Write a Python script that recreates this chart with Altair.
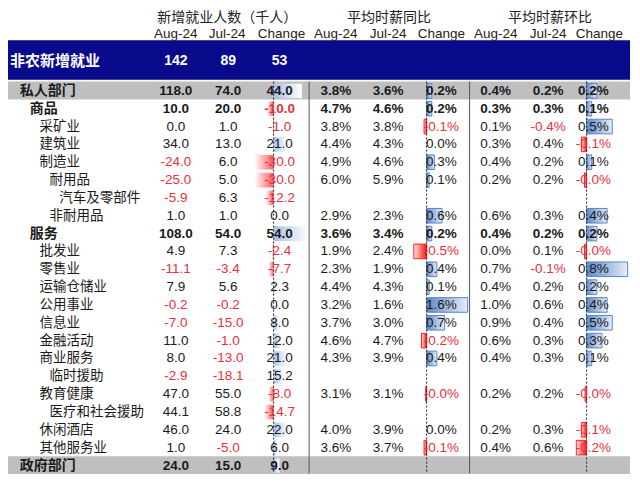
import math
import altair as alt
import pandas as pd

# ---------------- data ----------------
labels = ["私人部门", "商品", "采矿业", "建筑业", "制造业", "耐用品", "汽车及零部件", "非耐用品",
          "服务", "批发业", "零售业", "运输仓储业", "公用事业", "信息业", "金融活动", "商业服务",
          "临时援助", "教育健康", "医疗和社会援助", "休闲酒店", "其他服务业", "政府部门"]
levels = [1, 2, 3, 3, 3, 4, 5, 4, 2, 3, 3, 3, 3, 3, 3, 3, 4, 3, 4, 3, 3, 1]
bold_rows = ["私人部门", "商品", "服务", "政府部门"]
band_rows = ["私人部门", "政府部门"]

emp_aug = [118.0, 10.0, 0.0, 34.0, -24.0, -25.0, -5.9, 1.0, 108.0, 4.9, -11.1, 7.9, -0.2, -7.0,
           11.0, 8.0, -2.9, 47.0, 44.1, 46.0, 1.0, 24.0]
emp_jul = [74.0, 20.0, 1.0, 13.0, 6.0, 5.0, 6.3, 1.0, 54.0, 7.3, -3.4, 5.6, -0.2, -15.0,
           -1.0, -13.0, -18.1, 55.0, 58.8, 24.0, -5.0, 15.0]
emp_chg = [44.0, -10.0, -1.0, 21.0, -30.0, -30.0, -12.2, 0.0, 54.0, -2.4, -7.7, 2.3, 0.0, 8.0,
           12.0, 21.0, 15.2, -8.0, -14.7, 22.0, 6.0, 9.0]

yoy_aug = [3.8, 4.7, 3.8, 4.4, 4.9, 6.0, None, 2.9, 3.6, 1.9, 2.3, 4.4, 3.2, 3.7, 4.6, 4.3,
           None, 3.1, None, 4.0, 3.6, None]
yoy_jul = [3.6, 4.6, 3.8, 4.3, 4.6, 5.9, None, 2.3, 3.4, 2.4, 1.9, 4.3, 1.6, 3.0, 4.7, 3.9,
           None, 3.1, None, 3.9, 3.7, None]
yoy_chg = [0.2, 0.2, -0.1, 0.0, 0.3, 0.1, None, 0.6, 0.2, -0.5, 0.4, 0.1, 1.6, 0.7, -0.2, 0.4,
           None, -0.04, None, 0.0, -0.1, None]

mom_aug = [0.4, 0.3, 0.1, 0.3, 0.4, 0.2, None, 0.6, 0.4, 0.0, 0.7, 0.4, 1.0, 0.9, 0.6, 0.4,
           None, 0.2, None, 0.2, 0.4, None]
mom_jul = [0.2, 0.3, -0.4, 0.4, 0.2, 0.2, None, 0.3, 0.2, 0.1, -0.1, 0.2, 0.6, 0.4, 0.3, 0.3,
           None, 0.2, None, 0.3, 0.6, None]
mom_chg = [0.2, 0.1, 0.5, -0.1, 0.1, -0.04, None, 0.4, 0.2, -0.04, 0.8, 0.2, 0.4, 0.5, 0.3, 0.1,
           None, -0.03, None, -0.1, -0.2, None]

total_label = "非农新增就业"
total_values = ["142", "89", "53"]

group_titles = ["新增就业人数（千人）", "平均时薪同比", "平均时薪环比"]
col_titles = ["Aug-24", "Jul-24", "Change"]

# ---------------- layout (reference pixel space) ----------------
ROW0, ROW_H = 87.0, 18.3
LEFT, RIGHT = 0.0, 633.0
NAVY_TOP, NAVY_BOT, NAVY_Y = 35.0, 75.5, 56.5
TITLE_Y, SUB_Y = 12.5, 28.5
GRID_TOP, GRID_BOT = 77.5, 479.5
group_centers = [225, 389, 552]
sub_centers = [[173, 225, 280], [335, 388, 442], [497, 550, 602]]
val_centers = [[173, 226, 278], [335, 388, 442], [497, 550, 596]]
axis_x = [272.0, 427.0, 589.0]
bar_k = [0.65, 26.0, 52.0]
separators = [308.0, 470.5]

NAVY, GREY = "#0a0a8c", "#bfbfbf"
BLACK, RED, WHITE = "#1a1a1a", "#e8303a", "#ffffff"
CJK = "Noto Sans CJK SC"
LAT = "Liberation Sans, Arial, Noto Sans CJK SC"

xs = alt.Scale(domain=[3, 635], nice=False, zero=False)
ys = alt.Scale(domain=[2, 480], nice=False, zero=False, reverse=True)


def is_neg(v):
    return v is not None and math.copysign(1.0, v) < 0


def row_y(i):
    return ROW0 + i * ROW_H


# ---------------- backgrounds ----------------
bands = [dict(x=LEFT, x2=RIGHT, y=NAVY_TOP, y2=NAVY_BOT, c=NAVY)]
for i, lab in enumerate(labels):
    if lab in band_rows:
        bands.append(dict(x=LEFT, x2=RIGHT, y=row_y(i) - ROW_H / 2 - 0.4,
                          y2=row_y(i) + ROW_H / 2 - 0.4, c=GREY))
band_layer = alt.Chart(pd.DataFrame(bands)).mark_rect().encode(
    x=alt.X("x:Q", scale=xs, axis=None), x2="x2:Q",
    y=alt.Y("y:Q", scale=ys, axis=None), y2="y2:Q",
    color=alt.Color("c:N", scale=None))

# ---------------- data bars ----------------
series_chg = [emp_chg, yoy_chg, mom_chg]
bar_rows = {("pos", 0): [], ("neg", 0): [], ("pos", 1): [], ("neg", 1): []}
for s, vals in enumerate(series_chg):
    kind = 0 if s == 0 else 1
    for i, v in enumerate(vals):
        if v is None or abs(v) < 1e-9:
            continue
        rec = dict(x=axis_x[s], x2=axis_x[s] + v * bar_k[s], y=row_y(i) - 7.5, y2=row_y(i) + 7.5)
        bar_rows[("neg" if v < 0 else "pos", kind)].append(rec)


def grad(stops):
    return {"gradient": "linear", "x1": 0, "x2": 1, "y1": 0, "y2": 0,
            "stops": [{"offset": o, "color": c} for o, c in stops]}


bar_styles = {
    ("pos", 0): dict(color=grad([(0, "#a9c0e3"), (1, "#ffffff")])),
    ("neg", 0): dict(color=grad([(0, "#ffffff"), (1, "#ff5a62")])),
    ("pos", 1): dict(color=grad([(0, "#5f88c8"), (1, "#e6edf7")]), stroke="#5b86c4", strokeWidth=1),
    ("neg", 1): dict(color=grad([(0, "#ffe6e6"), (1, "#ff1010")]), stroke="#ff2020", strokeWidth=1),
}
bar_layers = []
for key, recs in bar_rows.items():
    if not recs:
        continue
    bar_layers.append(alt.Chart(pd.DataFrame(recs)).mark_rect(**bar_styles[key]).encode(
        x=alt.X("x:Q", scale=xs, axis=None), x2="x2:Q",
        y=alt.Y("y:Q", scale=ys, axis=None), y2="y2:Q"))

# ---------------- rules ----------------
axis_df = pd.DataFrame([dict(x=a, y=GRID_TOP, y2=GRID_BOT) for a in axis_x])
axis_layer = alt.Chart(axis_df).mark_rule(color="#222222", strokeWidth=1, strokeDash=[2, 2]).encode(
    x=alt.X("x:Q", scale=xs, axis=None), y=alt.Y("y:Q", scale=ys, axis=None), y2="y2:Q")
sep_df = pd.DataFrame([dict(x=a, y=GRID_TOP, y2=GRID_BOT) for a in separators])
sep_layer = alt.Chart(sep_df).mark_rule(color="#555555", strokeWidth=1).encode(
    x=alt.X("x:Q", scale=xs, axis=None), y=alt.Y("y:Q", scale=ys, axis=None), y2="y2:Q")

# ---------------- texts ----------------
header = []
for g, t in enumerate(group_titles):
    header.append(dict(x=group_centers[g], y=TITLE_Y, text=t, c="#222222"))
sub = []
for g in range(3):
    for j, t in enumerate(col_titles):
        sub.append(dict(x=sub_centers[g][j], y=SUB_Y, text=t, c="#222222"))

lab_norm, lab_bold = [], []
for i, lab in enumerate(labels):
    rec = dict(x=5 + 10 * levels[i], y=row_y(i), text=lab, c=BLACK)
    (lab_bold if lab in bold_rows else lab_norm).append(rec)

val_norm, val_bold = [], []
sections = [(emp_aug, emp_jul, emp_chg, "{:.1f}"),
            (yoy_aug, yoy_jul, yoy_chg, "{:.1f}%"),
            (mom_aug, mom_jul, mom_chg, "{:.1f}%")]
for s, (a, b, c, fmt) in enumerate(sections):
    for j, col in enumerate([a, b, c]):
        for i, v in enumerate(col):
            if v is None:
                continue
            rec = dict(x=val_centers[s][j], y=row_y(i), text=fmt.format(v),
                       c=RED if is_neg(v) else BLACK)
            (val_bold if labels[i] in bold_rows else val_norm).append(rec)

navy_lab = [dict(x=5, y=NAVY_Y, text=total_label, c=WHITE)]
navy_val = [dict(x=val_centers[0][j], y=NAVY_Y, text=t, c=WHITE) for j, t in enumerate(total_values)]


def text_layer(recs, align, bold, font, size):
    return alt.Chart(pd.DataFrame(recs)).mark_text(
        align=align, baseline="middle", font=font, fontSize=size,
        fontWeight="bold" if bold else "normal").encode(
        x=alt.X("x:Q", scale=xs, axis=None), y=alt.Y("y:Q", scale=ys, axis=None),
        text="text:N", color=alt.Color("c:N", scale=None))


text_layers = [
    text_layer(header, "center", False, CJK, 14),
    text_layer(sub, "center", False, LAT, 13.5),
    text_layer(lab_norm, "left", False, CJK, 13.5),
    text_layer(lab_bold, "left", True, CJK, 14),
    text_layer(val_norm, "center", False, LAT, 13.5),
    text_layer(val_bold, "center", True, LAT, 13.5),
    text_layer(navy_lab, "left", True, CJK, 15),
    text_layer(navy_val, "center", True, LAT, 14),
]

chart = alt.layer(band_layer, *bar_layers, axis_layer, sep_layer, *text_layers).properties(
    width=624, height=466, padding=0, autosize=alt.AutoSizeParams(type="none")
).configure_view(stroke=None)

chart.save("out.html", embed_options={"renderer": "svg", "actions": False})
